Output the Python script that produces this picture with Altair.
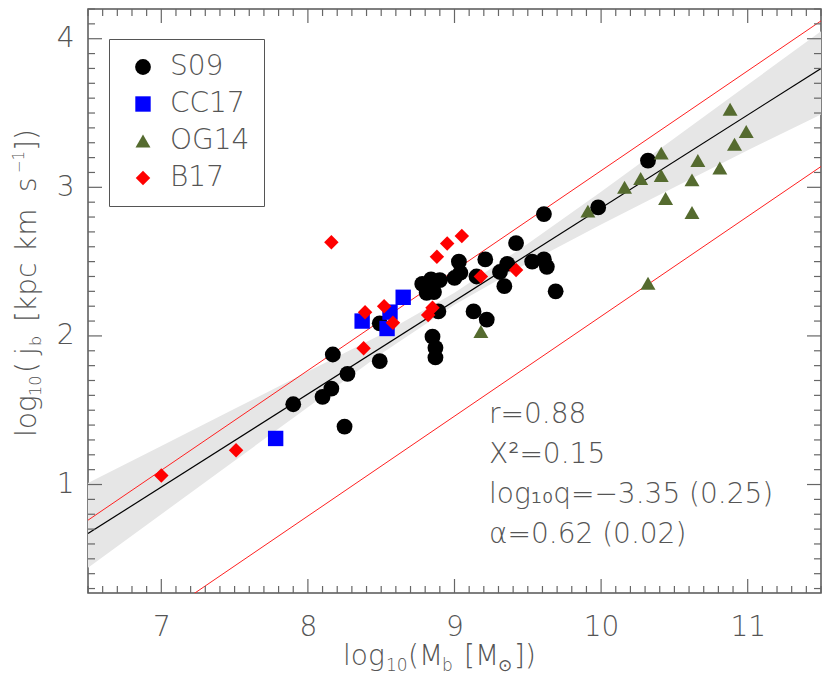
import altair as alt
import pandas as pd

# ---------------- data ----------------
series_names = ["S09", "CC17", "OG14", "B17"]
series_colors = ["#000000", "#0000ff", "#556b2f", "#ff0000"]
series_shapes = ["circle", "square", "triangle-up", "diamond"]
series_sizes = [250, 210, 250, 190]

s09_x = [7.90, 8.10, 8.16, 8.25, 8.17, 8.27, 8.49, 8.49, 8.78, 8.84, 8.90, 8.81,
         8.86, 8.89, 8.85, 8.87, 8.87, 9.00, 9.03, 9.04, 9.13, 9.15, 9.22, 9.21,
         9.31, 9.34, 9.36, 9.42, 9.53, 9.61, 9.63, 9.69, 9.61, 9.98, 10.32]
s09_y = [1.54, 1.59, 1.645, 1.39, 1.875, 1.745, 1.83, 2.085, 2.35, 2.38, 2.375, 2.29,
         2.295, 2.165, 1.995, 1.92, 1.855, 2.39, 2.50, 2.425, 2.165, 2.40, 2.11, 2.515,
         2.43, 2.335, 2.485, 2.625, 2.50, 2.515, 2.465, 2.30, 2.82, 2.865, 3.18]

cc17_x = [7.78, 8.37, 8.54, 8.56, 8.65]
cc17_y = [1.31, 2.10, 2.05, 2.16, 2.26]

og14_x = [9.18, 9.91, 10.16, 10.27, 10.41, 10.41, 10.44, 10.62, 10.62, 10.66,
          10.81, 10.88, 10.91, 10.99, 10.32]
og14_y = [2.03, 2.84, 3.00, 3.06, 3.23, 3.08, 2.925, 3.05, 2.83, 3.18,
          3.13, 3.525, 3.29, 3.375, 2.355]

b17_x = [7.00, 7.51, 8.16, 8.38, 8.39, 8.52, 8.58, 8.82, 8.85, 8.88, 8.95, 9.05, 9.18, 9.42]
b17_y = [1.06, 1.23, 2.63, 1.917, 2.16, 2.20, 2.088, 2.14, 2.19, 2.532, 2.622, 2.672, 2.40, 2.443]

fit_x = [6.5, 11.5]
fit_y = [0.67, 3.80]

red_upper_x = [6.5, 11.5]
red_upper_y = [0.76, 4.12]
red_lower_x = [6.5, 11.5]
red_lower_y = [-0.22, 3.14]

band_x = [6.5, 7.0, 7.5, 8.0, 8.5, 9.0, 9.5, 10.0, 10.5, 11.0, 11.5]
band_lo = [0.44, 0.80, 1.16, 1.52, 1.88, 2.21, 2.49, 2.75, 3.00, 3.25, 3.49]
band_hi = [1.01, 1.26, 1.51, 1.76, 2.01, 2.29, 2.62, 2.97, 3.33, 3.69, 4.05]

x_major = [7, 8, 9, 10, 11]
y_major = [1, 2, 3, 4]
x_minor = [round(6.5 + 0.1 * i, 1) for i in range(51) if abs(6.5 + 0.1 * i - round(6.5 + 0.1 * i)) > 1e-6]
y_minor = [round(0.3 + 0.1 * i, 1) for i in range(40) if abs(0.3 + 0.1 * i - round(0.3 + 0.1 * i)) > 1e-6]

stats_lines = ["r=0.88", "Χ²=0.15", "log₁₀q=−3.35 (0.25)", "α=0.62 (0.02)"]

# ---------------- layout ----------------
W, H = 733, 584
PAD_L, PAD_T = 80, 1
OX, OY = 8 + PAD_L, 8 + PAD_T  # page offset of plot origin
FONT = "DejaVu Sans"
FW = 200
TXT = "#555555"
TICK = "#666666"

xscale = alt.Scale(domain=[6.5, 11.5], nice=False, zero=False)
yscale = alt.Scale(domain=[0.27, 4.2], nice=False, zero=False)

x_axis = alt.Axis(values=x_major, ticks=False, domain=False, grid=False,
                  labelFontSize=28, labelFont=FONT, labelFontWeight=FW, labelColor=TXT,
                  labelPadding=20, title=None, format="d")
y_axis = alt.Axis(values=y_major, ticks=False, domain=False, grid=False,
                  labelFontSize=28, labelFont=FONT, labelFontWeight=FW, labelColor=TXT,
                  labelPadding=14, title=None, format="d")


def X(field):
    return alt.X(field, scale=xscale, axis=x_axis, title=None)


def Y(field):
    return alt.Y(field, scale=yscale, axis=y_axis, title=None)


# ---------------- frames ----------------
rows = []
for name, xs, ys in [("S09", s09_x, s09_y), ("CC17", cc17_x, cc17_y),
                     ("OG14", og14_x, og14_y), ("B17", b17_x, b17_y)]:
    for xv, yv in zip(xs, ys):
        rows.append({"x": xv, "y": yv, "series": name})
points_df = pd.DataFrame(rows)

band_df = pd.DataFrame({"x": band_x, "lo": band_lo, "hi": band_hi})
fit_df = pd.DataFrame({"x": fit_x, "y": fit_y})
red_df = pd.DataFrame({
    "x": red_upper_x + red_lower_x,
    "y": red_upper_y + red_lower_y,
    "which": ["upper"] * len(red_upper_x) + ["lower"] * len(red_lower_x),
})

band = alt.Chart(band_df).mark_area(color="#e6e6e6", clip=True).encode(
    x=X("x:Q"), y=Y("lo:Q"), y2="hi:Q",
)

red_lines = alt.Chart(red_df).mark_line(color="#ff2020", strokeWidth=1, clip=True).encode(
    x=X("x:Q"), y=Y("y:Q"), detail="which:N",
)

fit_line = alt.Chart(fit_df).mark_line(color="black", strokeWidth=1.2, clip=True).encode(
    x=X("x:Q"), y=Y("y:Q"),
)

legend = alt.Legend(title=None, orient="none", legendX=21, legendY=30, padding=14,
                    strokeColor="#555555", fillColor="white", labelFontSize=28,
                    labelFont=FONT, labelFontWeight=FW, labelColor=TXT, symbolSize=60,
                    symbolOffset=6, labelOffset=13, rowPadding=9, symbolStrokeWidth=0)

points = alt.Chart(points_df).mark_point(filled=True, opacity=1, strokeWidth=0).encode(
    x=X("x:Q"), y=Y("y:Q"),
    color=alt.Color("series:N", scale=alt.Scale(domain=series_names, range=series_colors), legend=legend),
    shape=alt.Shape("series:N", scale=alt.Scale(domain=series_names, range=series_shapes), legend=legend),
    size=alt.Size("series:N", scale=alt.Scale(domain=series_names, range=series_sizes), legend=None),
)


def xticks(vals, length):
    df = pd.DataFrame({"v": vals})
    bot = alt.Chart(df).mark_rule(color=TICK, strokeWidth=1.2).encode(
        x=X("v:Q"), y=alt.value(H), y2=alt.value(H - length))
    top = alt.Chart(df).mark_rule(color=TICK, strokeWidth=1.2).encode(
        x=X("v:Q"), y=alt.value(0), y2=alt.value(length))
    return [bot, top]


def yticks(vals, length):
    df = pd.DataFrame({"v": vals})
    left = alt.Chart(df).mark_rule(color=TICK, strokeWidth=1.2).encode(
        y=Y("v:Q"), x=alt.value(0), x2=alt.value(length))
    right = alt.Chart(df).mark_rule(color=TICK, strokeWidth=1.2).encode(
        y=Y("v:Q"), x=alt.value(W), x2=alt.value(W - length))
    return [left, right]


tick_layers = xticks(x_major, 14) + xticks(x_minor, 7) + yticks(y_major, 14) + yticks(y_minor, 7)


def text_piece(txt, px, py, size, angle=0, baseline="alphabetic"):
    return alt.Chart(pd.DataFrame({"t": [txt]})).mark_text(
        align="left", baseline=baseline, font=FONT, fontWeight=FW, fontSize=size,
        color=TXT, angle=angle,
    ).encode(text="t:N", x=alt.value(px - OX), y=alt.value(py - OY))


text_layers = []
# statistics block
for i, line in enumerate(stats_lines):
    text_layers.append(text_piece(line, 489, 415 + 40 * i, 28, baseline="middle"))

# x title pieces: log10(Mb [M⊙])
x_title = [("log", 343, 665, 28), ("10", 386, 671, 17), ("(M", 408, 665, 28),
           ("b", 442, 671, 17), ("[M", 464, 665, 28), ("⊙", 498, 671, 17), ("])", 514, 665, 28)]
for t, px, py, s in x_title:
    text_layers.append(text_piece(t, px, py, s))

# y title pieces (rotated): log10(jb [kpc km s-1])
y_title = [("log", 36, 437, 28), ("10", 41, 396, 16), ("(", 36, 373, 28), ("j", 36, 355, 28),
           ("b", 41, 346, 16), ("[", 36, 322, 28), ("kpc", 36, 312, 28), ("km", 36, 252, 28),
           ("s", 36, 192, 28), ("−1", 24, 173, 15), ("]", 36, 151, 28), (")", 36, 140, 28)]
for t, px, py, s in y_title:
    text_layers.append(text_piece(t, px, py, s, angle=270))

chart = alt.layer(band, red_lines, fit_line, *tick_layers, points, *text_layers).properties(
    width=W, height=H,
    autosize=alt.AutoSizeParams(type="none"),
    padding={"left": PAD_L, "top": PAD_T, "right": 1, "bottom": 84},
).configure_view(stroke="#555555", strokeWidth=1.5)

chart.save("out.html", embed_options={"renderer": "svg", "actions": False})
